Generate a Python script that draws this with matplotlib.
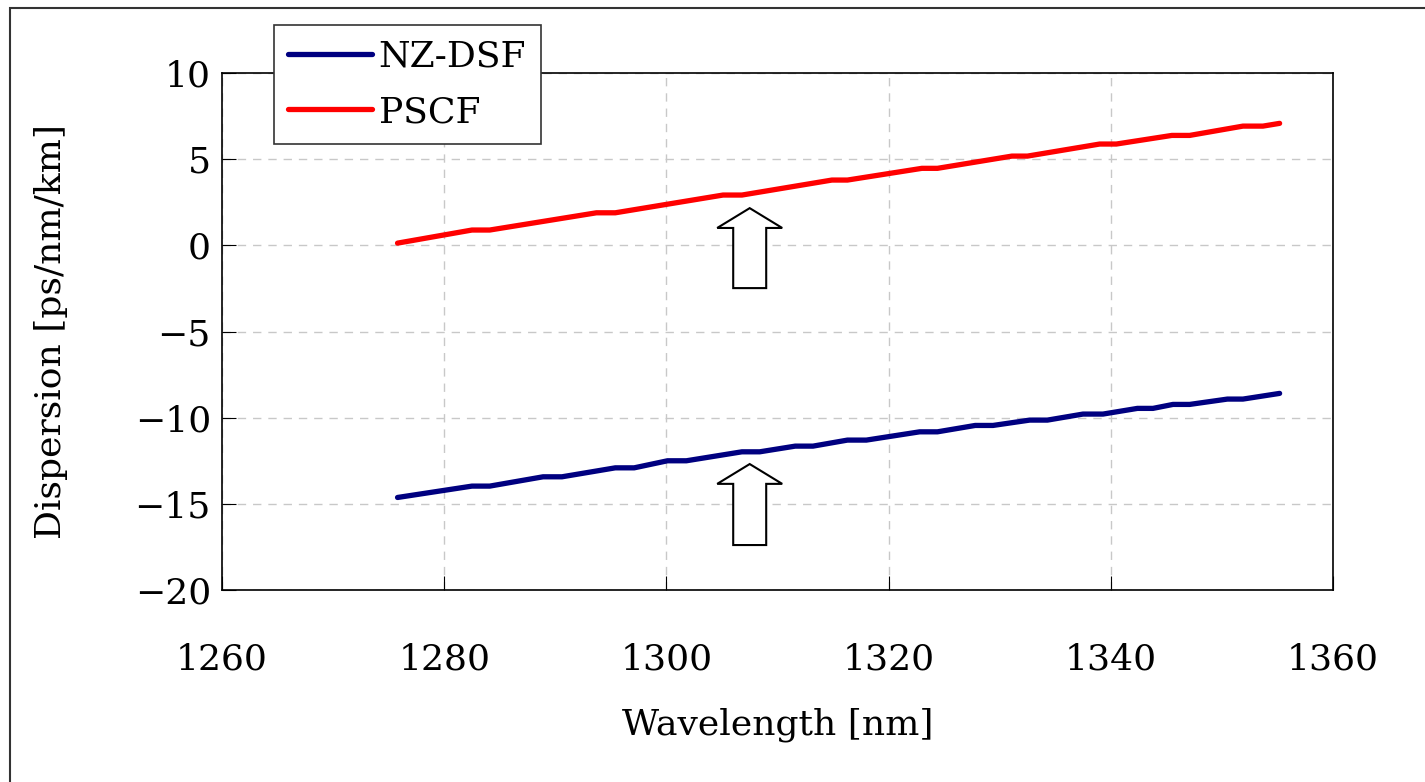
import matplotlib
matplotlib.use("Agg")
import matplotlib.pyplot as plt
from matplotlib.patches import FancyArrow, Rectangle

# wavelength [nm] / dispersion [ps/nm/km]
nzdsf_wl = [1275.8, 1282.5, 1284.1, 1288.9, 1290.6, 1295.4, 1297.1, 1300.1, 1301.8,
            1306.8, 1308.4, 1311.6, 1313.2, 1316.3, 1318.0, 1322.8, 1324.4, 1327.8,
            1329.4, 1332.7, 1334.3, 1337.5, 1339.3, 1342.4, 1343.8, 1345.6, 1347.1,
            1350.5, 1351.9, 1355.2]
nzdsf_d = [-14.63, -13.97, -13.97, -13.43, -13.43, -12.91, -12.91, -12.50, -12.50,
           -11.98, -11.98, -11.65, -11.65, -11.30, -11.30, -10.82, -10.82, -10.45,
           -10.45, -10.14, -10.14, -9.79, -9.79, -9.46, -9.46, -9.23, -9.23,
           -8.92, -8.92, -8.59]

pscf_wl = [1275.8, 1282.5, 1284.1, 1293.7, 1295.4, 1305.1, 1306.8, 1314.9, 1316.3,
           1323.0, 1324.4, 1331.1, 1332.5, 1339.0, 1340.5, 1345.5, 1347.1, 1351.9,
           1353.7, 1355.2]
pscf_d = [0.13, 0.89, 0.89, 1.89, 1.89, 2.92, 2.92, 3.79, 3.79,
          4.47, 4.47, 5.18, 5.18, 5.88, 5.88, 6.38, 6.38, 6.92,
          6.92, 7.08]

# hollow up-arrows: x centre, bottom, top
arrow_x = 1307.5
arrow_spans = [(-2.48, 2.16), (-17.39, -12.69)]

plt.rcParams['font.family'] = ['DejaVu Serif']

fig = plt.figure(figsize=(14.25, 7.82), dpi=100)
ax = fig.add_axes([0.1558, 0.2455, 0.7796, 0.6611])

ax.plot(nzdsf_wl, nzdsf_d, color='#000080', lw=3.8, label='NZ-DSF', solid_capstyle='round')
ax.plot(pscf_wl, pscf_d, color='#ff0000', lw=3.8, label='PSCF', solid_capstyle='round')

for y0, y1 in arrow_spans:
    ax.add_patch(FancyArrow(arrow_x, y0, 0, y1 - y0, width=2.97, head_width=5.85,
                            head_length=1.15, length_includes_head=True,
                            facecolor='white', edgecolor='black', lw=1.5, zorder=3))

ax.set_xlim(1260, 1360)
ax.set_ylim(-20, 10)
ax.set_xticks(range(1260, 1361, 20))
ax.set_yticks(range(-20, 11, 5))
ax.grid(True, color='#c8c8c8', ls=(0, (6, 5)), lw=1)
ax.tick_params(direction='in', length=10, labelsize=26, pad=8)
ax.tick_params(axis='x', pad=38)
for s in ax.spines.values():
    s.set_linewidth(1.2)

ax.set_xlabel('Wavelength [nm]', fontsize=26, labelpad=22)
ax.set_ylabel('Dispersion [ps/nm/km]', fontsize=26, labelpad=48)

leg = ax.legend(loc='upper left', bbox_to_anchor=(274 / 1425, 1 - 25 / 782),
                bbox_transform=fig.transFigure, fontsize=26, fancybox=False,
                framealpha=1, edgecolor='#333333', handlelength=2.3,
                borderpad=0.4, labelspacing=0.6, handletextpad=0.2, borderaxespad=0)
leg.get_frame().set_linewidth(1.2)

# outer frame around the figure
fig.add_artist(Rectangle((10 / 1425, -0.1), 1.2, 1 - 8 / 782 + 0.1, transform=fig.transFigure,
                         fill=False, edgecolor='#333333', lw=1.5))

fig.savefig('out.png', dpi=100)
